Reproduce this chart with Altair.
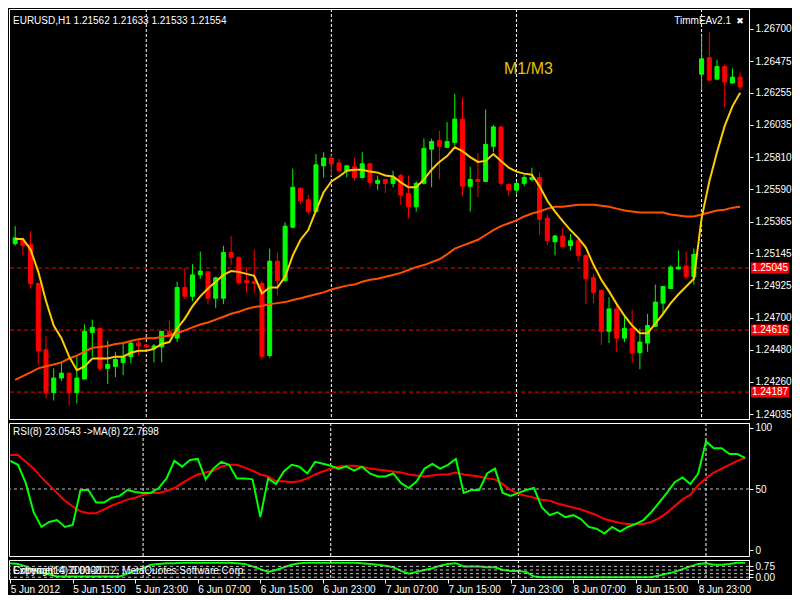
import altair as alt
import pandas as pd
import numpy as np

# ---------------- data ----------------
opens = [1.25213, 1.25240, 1.25206, 1.24937, 1.24479, 1.24183, 1.24284, 1.24318, 1.24183, 1.24277,
         1.24600, 1.24627, 1.24351, 1.24365, 1.24392, 1.24432, 1.24526, 1.24513, 1.24493, 1.24499,
         1.24607, 1.24560, 1.24910, 1.24849, 1.24997, 1.25018, 1.24836, 1.24836, 1.25152, 1.25118,
         1.24957, 1.24950, 1.24937, 1.24439, 1.25092, 1.24957, 1.25327, 1.25596, 1.25516, 1.25435,
         1.25751, 1.25805, 1.25771, 1.25717, 1.25744, 1.25670, 1.25765, 1.25630, 1.25657, 1.25630,
         1.25684, 1.25559, 1.25468, 1.25630, 1.25866, 1.25926, 1.25879, 1.25913, 1.26074, 1.25610,
         1.25657, 1.25643, 1.25886, 1.26020, 1.25623, 1.25583, 1.25630, 1.25657, 1.25670, 1.25388,
         1.25226, 1.25266, 1.25199, 1.25233, 1.25132, 1.24977, 1.24890, 1.24607, 1.24762, 1.24560,
         1.24627, 1.24459, 1.24526, 1.24641, 1.24802, 1.24903, 1.25038, 1.25058, 1.24984, 1.26384,
         1.26498, 1.26350, 1.26438, 1.26323, 1.26364]
highs = [1.25334, 1.25253, 1.25300, 1.24944, 1.24573, 1.24351, 1.24392, 1.24324, 1.24432, 1.24654,
         1.24688, 1.24634, 1.24540, 1.24466, 1.24526, 1.24533, 1.24546, 1.24520, 1.24520, 1.24610,
         1.24681, 1.24950, 1.25044, 1.25071, 1.25159, 1.25024, 1.24984, 1.25199, 1.25265, 1.25125,
         1.25051, 1.25172, 1.24957, 1.25179, 1.25152, 1.25361, 1.25731, 1.25603, 1.25549, 1.25832,
         1.25845, 1.25825, 1.25798, 1.25758, 1.25805, 1.25845, 1.25771, 1.25684, 1.25660, 1.25717,
         1.25697, 1.25684, 1.25643, 1.25940, 1.25940, 1.25993, 1.26054, 1.26249, 1.26222, 1.25744,
         1.25839, 1.26141, 1.26034, 1.26027, 1.25630, 1.25643, 1.25690, 1.25738, 1.25704, 1.25415,
         1.25273, 1.25320, 1.25280, 1.25246, 1.25139, 1.25004, 1.24896, 1.24843, 1.24789, 1.24708,
         1.24755, 1.24627, 1.24728, 1.24930, 1.24920, 1.25065, 1.25166, 1.25159, 1.25179, 1.26653,
         1.26673, 1.26485, 1.26451, 1.26424, 1.26397]
lows = [1.25199, 1.25132, 1.24903, 1.24378, 1.24143, 1.24129, 1.24264, 1.24096, 1.24109, 1.24277,
        1.24432, 1.24331, 1.24244, 1.24291, 1.24304, 1.24385, 1.24445, 1.24493, 1.24392, 1.24392,
        1.24567, 1.24533, 1.24829, 1.24816, 1.24970, 1.24795, 1.24769, 1.24795, 1.25065, 1.24930,
        1.24876, 1.24869, 1.24412, 1.24425, 1.24856, 1.24950, 1.25320, 1.25489, 1.25415, 1.25430,
        1.25670, 1.25684, 1.25704, 1.25670, 1.25650, 1.25664, 1.25603, 1.25583, 1.25563, 1.25603,
        1.25482, 1.25388, 1.25435, 1.25623, 1.25603, 1.25657, 1.25875, 1.25892, 1.25542, 1.25435,
        1.25536, 1.25640, 1.25845, 1.25610, 1.25542, 1.25559, 1.25610, 1.25643, 1.25273, 1.25206,
        1.25132, 1.25188, 1.25166, 1.25092, 1.24795, 1.24802, 1.24513, 1.24526, 1.24466, 1.24533,
        1.24392, 1.24345, 1.24466, 1.24635, 1.24728, 1.24900, 1.25031, 1.24970, 1.24930, 1.26276,
        1.26340, 1.26348, 1.26155, 1.26320, 1.26276]
closes = [1.25253, 1.25199, 1.24937, 1.24472, 1.24183, 1.24284, 1.24318, 1.24183, 1.24284, 1.24607,
          1.24634, 1.24351, 1.24378, 1.24412, 1.24425, 1.24526, 1.24506, 1.24499, 1.24506, 1.24607,
          1.24573, 1.24910, 1.24849, 1.24997, 1.25024, 1.24836, 1.24977, 1.25152, 1.25118, 1.24944,
          1.24944, 1.24937, 1.24432, 1.25092, 1.24957, 1.25334, 1.25603, 1.25509, 1.25435, 1.25758,
          1.25805, 1.25765, 1.25717, 1.25751, 1.25670, 1.25765, 1.25637, 1.25650, 1.25630, 1.25670,
          1.25549, 1.25468, 1.25630, 1.25872, 1.25919, 1.25886, 1.25919, 1.26074, 1.25610, 1.25657,
          1.25643, 1.25899, 1.26020, 1.25630, 1.25583, 1.25630, 1.25670, 1.25670, 1.25381, 1.25233,
          1.25266, 1.25192, 1.25233, 1.25132, 1.24970, 1.24876, 1.24607, 1.24762, 1.24560, 1.24627,
          1.24459, 1.24533, 1.24647, 1.24809, 1.24917, 1.25051, 1.25051, 1.24984, 1.25139, 1.26491,
          1.26343, 1.26438, 1.26330, 1.26364, 1.26296]
ma_fast = [1.25246, 1.25246, 1.25172, 1.25018, 1.24816, 1.24647, 1.24560, 1.24432, 1.24338, 1.24365,
           1.24419, 1.24419, 1.24419, 1.24432, 1.24432, 1.24459, 1.24472, 1.24472, 1.24486, 1.24520,
           1.24533, 1.24627, 1.24695, 1.24782, 1.24849, 1.24903, 1.24950, 1.24997, 1.25024, 1.25018,
           1.25004, 1.24991, 1.24869, 1.24910, 1.24910, 1.24984, 1.25132, 1.25240, 1.25307, 1.25442,
           1.25569, 1.25643, 1.25677, 1.25717, 1.25724, 1.25724, 1.25711, 1.25704, 1.25684, 1.25677,
           1.25637, 1.25603, 1.25603, 1.25657, 1.25724, 1.25778, 1.25818, 1.25879, 1.25852, 1.25811,
           1.25778, 1.25785, 1.25832, 1.25785, 1.25738, 1.25711, 1.25697, 1.25690, 1.25610, 1.25509,
           1.25435, 1.25368, 1.25307, 1.25253, 1.25186, 1.25065, 1.24964, 1.24883, 1.24795, 1.24715,
           1.24647, 1.24594, 1.24594, 1.24661, 1.24728, 1.24802, 1.24863, 1.24917, 1.24970, 1.25388,
           1.25643, 1.25845, 1.26027, 1.26162, 1.26256]
ma_slow = [1.24271, 1.24297, 1.24324, 1.24351, 1.24365, 1.24378, 1.24392, 1.24419, 1.24439, 1.24466,
           1.24493, 1.24499, 1.24506, 1.24520, 1.24526, 1.24540, 1.24553, 1.24560, 1.24560, 1.24567,
           1.24580, 1.24594, 1.24614, 1.24634, 1.24654, 1.24668, 1.24688, 1.24708, 1.24728, 1.24742,
           1.24762, 1.24775, 1.24782, 1.24795, 1.24802, 1.24809, 1.24823, 1.24836, 1.24849, 1.24863,
           1.24876, 1.24896, 1.24910, 1.24923, 1.24930, 1.24950, 1.24964, 1.24970, 1.24984, 1.24997,
           1.25011, 1.25031, 1.25051, 1.25065, 1.25085, 1.25105, 1.25139, 1.25179, 1.25199, 1.25219,
           1.25240, 1.25273, 1.25307, 1.25334, 1.25354, 1.25374, 1.25401, 1.25421, 1.25435, 1.25455,
           1.25468, 1.25468, 1.25475, 1.25482, 1.25482, 1.25482, 1.25475, 1.25468, 1.25455, 1.25442,
           1.25435, 1.25428, 1.25428, 1.25428, 1.25428, 1.25415, 1.25408, 1.25401, 1.25401, 1.25415,
           1.25428, 1.25442, 1.25448, 1.25462, 1.25468]
rsi = [73.0, 69.8, 54.8, 31.0, 19.0, 23.0, 24.6, 19.0, 20.6, 49.2,
       49.2, 38.9, 38.9, 42.9, 44.4, 49.2, 47.6, 46.8, 46.8, 50.8,
       58.7, 73.0, 68.3, 73.8, 74.6, 57.9, 66.7, 72.2, 69.8, 58.7,
       58.7, 57.9, 27.0, 58.7, 54.0, 64.3, 69.8, 68.3, 62.7, 72.2,
       70.6, 69.0, 66.7, 68.3, 65.1, 68.3, 62.7, 60.3, 60.3, 62.7,
       54.8, 50.8, 56.3, 66.7, 70.6, 66.7, 69.8, 74.6, 46.8, 49.2,
       49.2, 62.7, 66.7, 46.8, 44.4, 46.8, 49.2, 50.8, 34.9, 28.6,
       31.0, 27.0, 28.6, 25.4, 19.0, 17.5, 13.5, 19.0, 15.1, 19.0,
       21.4, 24.6, 31.0, 38.9, 46.8, 55.6, 59.5, 54.0, 62.7, 88.9,
       83.3, 83.3, 78.6, 78.6, 75.4]
rsi_ma = [77.8, 77.8, 72.2, 66.7, 59.5, 53.2, 46.8, 40.5, 35.7, 31.7,
          30.2, 30.2, 33.3, 36.5, 38.9, 41.3, 42.9, 45.2, 46.8, 46.8,
          48.4, 50.8, 54.8, 58.7, 61.9, 63.5, 65.1, 68.3, 69.8, 69.8,
          67.5, 65.1, 61.9, 60.3, 56.3, 56.3, 55.6, 56.3, 58.7, 61.9,
          64.3, 66.7, 68.3, 69.0, 69.0, 68.3, 66.7, 65.9, 65.1, 64.3,
          63.5, 61.9, 61.1, 60.3, 61.1, 61.9, 61.9, 63.5, 61.9, 61.1,
          60.3, 58.7, 57.9, 54.0, 49.2, 46.0, 44.4, 42.9, 41.3, 40.5,
          38.1, 36.5, 34.9, 33.3, 31.0, 28.6, 25.4, 23.8, 22.2, 21.4,
          21.4, 21.4, 23.0, 26.2, 30.5, 36.0, 41.5, 45.2, 53.2, 58.7,
          63.5, 66.7, 69.8, 73.0, 75.4]
extreme = [0.97, 0.92, 0.75, 0.50, 0.31, 0.19, 0.05, 0.05, 0.05, 0.05,
           0.05, 0.05, 0.05, 0.05, 0.05, 0.25, 0.44, 0.62, 0.86, 0.92,
           0.97, 0.97, 1.0, 1.0, 1.0, 1.0, 1.0, 1.0, 1.0, 0.97,
           0.92, 0.75, 0.56, 0.37, 0.50, 0.69, 0.86, 0.97, 1.0, 1.0,
           1.0, 1.0, 1.0, 1.0, 1.0, 0.97, 0.92, 0.86, 0.80, 0.69,
           0.44, 0.25, 0.37, 0.50, 0.62, 0.80, 0.92, 0.97, 0.75, 0.75,
           0.75, 0.69, 0.69, 0.50, 0.44, 0.44, 0.37, 0.05, 0.0, 0.0,
           0.0, 0.0, 0.0, 0.0, 0.0, 0.0, 0.0, 0.0, 0.0, 0.0,
           0.0, 0.0, 0.0, 0.12, 0.25, 0.37, 0.56, 0.75, 0.92, 0.97,
           0.86, 0.86, 0.92, 1.0, 1.0]

price_ticks = [1.24035, 1.24260, 1.24480, 1.24700, 1.24925, 1.25145, 1.25365,
               1.25590, 1.25810, 1.26035, 1.26255, 1.26475, 1.26700]
price_levels = [1.25045, 1.24616, 1.24187]
day_starts = [17, 41, 65, 89]
time_tick_pos = [0, 8, 16, 24, 32, 40, 48, 56, 64, 72, 80, 88]
time_labels = ["5 Jun 2012", "5 Jun 15:00", "5 Jun 23:00", "6 Jun 07:00", "6 Jun 15:00",
               "6 Jun 23:00", "7 Jun 07:00", "7 Jun 15:00", "7 Jun 23:00", "8 Jun 07:00",
               "8 Jun 15:00", "8 Jun 23:00"]
rsi_ticks = [0, 50, 100]
rsi_levels = [50]
ext_levels = [0, 0.25, 0.5, 0.75]

header_main = "EURUSD,H1  1.21562 1.21633 1.21533 1.21554"
header_ea = "TimmEAv2.1"
header_mode = "M1/M3"
header_rsi = "RSI(8) 23.0543  ->MA(8) 22.7698"
header_ext = "Extreme(14) 0.0000"
copyright_txt = "Copyright \u00a9 2001-2012, MetaQuotes Software Corp."

# ---------------- frames ----------------
n = len(opens)
df = pd.DataFrame({"i": list(range(n)), "open": opens, "high": highs, "low": lows,
                   "close": closes, "ma_fast": ma_fast, "ma_slow": ma_slow,
                   "rsi": rsi, "rsi_ma": rsi_ma, "ext": extreme})
df["col"] = np.where(df["close"] >= df["open"], "#00FF00", "#FF0000")

lv_df = pd.DataFrame({"lv": price_levels})
sep_df = pd.DataFrame({"d": day_starts})

W = 740
H1, H2, H3 = 410, 133, 19
FONT = "Liberation Sans"
FS = 10

xs = alt.Scale(domain=[-0.15, 94.5], nice=False, zero=False)
ys_main = alt.Scale(domain=[1.24001, 1.26835], nice=False, zero=False)
ys_rsi = alt.Scale(domain=[-4.8, 104], nice=False, zero=False)
ys_ext = alt.Scale(domain=[-0.12, 1.19], nice=False, zero=False)

def r_axis(values, fmt):
    return alt.Axis(orient="right", values=values, format=fmt, title=None, grid=False,
                    labelColor="white", tickColor="white", domainColor="white",
                    tickSize=4, labelPadding=2, labelFont=FONT, labelFontSize=FS)

ax_main = r_axis(price_ticks, ".5f")
ax_rsi = r_axis(rsi_ticks, "d")
ax_ext = r_axis(ext_levels, ".2f")

x_axis = alt.Axis(values=time_tick_pos, labelExpr="%s[round(datum.value/8)]" % str(time_labels),
                  labelAlign="left", labelColor="white", tickColor="white", domainColor="white",
                  tickSize=4, labelPadding=1, labelFont=FONT, labelFontSize=FS, grid=False,
                  labelOverlap=False, labelFlush=False, title=None)

def X(field="i:Q", axis=None):
    return alt.X(field, scale=xs, axis=axis, title=None)

def text_layer(txt, x, y, color="white", size=FS, align="left", font=FONT):
    return alt.Chart(pd.DataFrame({"t": [txt]})).mark_text(
        align=align, baseline="middle", color=color, fontSize=size, font=font
    ).encode(x=alt.value(x), y=alt.value(y), text="t:N")

def seps(axis=None):
    return alt.Chart(sep_df).mark_rule(color="white", strokeDash=[3, 2], strokeWidth=1).encode(
        x=X("d:Q", axis=axis))

base = alt.Chart(df)

# ---------------- main panel ----------------
def YM(f):
    return alt.Y(f, scale=ys_main, axis=ax_main, title=None)

levels = alt.Chart(lv_df).mark_rule(color="#FF0000", strokeDash=[4, 3], strokeWidth=1).encode(
    y=YM("lv:Q"))
wicks = base.mark_rule(strokeWidth=1, clip=True).encode(
    x=X(), y=YM("low:Q"), y2="high:Q", color=alt.Color("col:N", scale=None))
bodies = base.mark_bar(size=4, strokeWidth=1, clip=True).encode(
    x=X(), y=YM("open:Q"), y2="close:Q",
    color=alt.Color("col:N", scale=None), stroke=alt.Stroke("col:N", scale=None))
slow = base.mark_line(color="#FF5000", strokeWidth=2, clip=True).encode(x=X(), y=YM("ma_slow:Q"))
fast = base.mark_line(color="#FFCC00", strokeWidth=2, clip=True).encode(x=X(), y=YM("ma_fast:Q"))
boxes = alt.Chart(lv_df).mark_point(
    shape="M-1,-0.29H1V0.29H-1Z", size=1444, filled=True, color="#FF0000", opacity=1, strokeWidth=0
).encode(x=alt.value(W + 21), y=YM("lv:Q"))
box_txt = alt.Chart(lv_df).mark_text(color="white", fontSize=FS, font=FONT, align="center",
                                     baseline="middle").encode(
    x=alt.value(W + 21), y=YM("lv:Q"), text=alt.Text("lv:Q", format=".5f"))

main = alt.layer(
    seps(), levels, wicks, bodies, slow, fast, boxes, box_txt,
    text_layer(header_main, 4, 12),
    text_layer(header_ea, 722, 12, align="right"),
    text_layer("\u2716", 731, 12, align="center", size=9, font="DejaVu Sans"),
    text_layer(header_mode, 495, 60, color="#E8C000", size=16),
).properties(width=W, height=H1)

# ---------------- RSI panel ----------------
def YR(f):
    return alt.Y(f, scale=ys_rsi, axis=ax_rsi, title=None)

rsi_lv = alt.Chart(pd.DataFrame({"v": rsi_levels})).mark_rule(
    color="#C0C0C0", strokeDash=[3, 3], strokeWidth=1).encode(y=YR("v:Q"))
rsi_line = base.mark_line(color="#00FF00", strokeWidth=2, clip=True).encode(x=X(), y=YR("rsi:Q"))
rsi_ma_line = base.mark_line(color="#FF0000", strokeWidth=2, clip=True).encode(x=X(), y=YR("rsi_ma:Q"))

rsi_panel = alt.layer(
    seps(), rsi_lv, rsi_ma_line, rsi_line,
    text_layer(header_rsi, 4, 9),
).properties(width=W, height=H2)

# ---------------- Extreme panel ----------------
def YE(f):
    return alt.Y(f, scale=ys_ext, axis=ax_ext, title=None)

ext_lv = alt.Chart(pd.DataFrame({"v": ext_levels})).mark_rule(
    color="#C0C0C0", strokeDash=[3, 3], strokeWidth=1).encode(y=YE("v:Q"))
ext_line = base.mark_line(color="#00FF00", strokeWidth=2, clip=True).encode(
    x=X("i:Q", axis=x_axis), y=YE("ext:Q"))

ext_panel = alt.layer(
    ext_line, seps(axis=x_axis), ext_lv,
    text_layer(header_ext, 4, 11),
    text_layer(copyright_txt, 4, 11),
).properties(width=W, height=H3)

chart = alt.vconcat(main, rsi_panel, ext_panel, spacing=2).configure(
    background="black", padding=0
).configure_view(stroke="white", strokeWidth=1)

chart.save("out.html", embed_options={"renderer": "svg", "actions": False})
